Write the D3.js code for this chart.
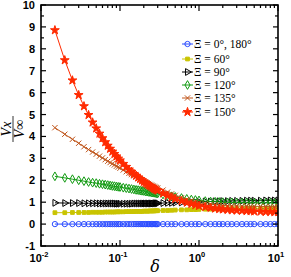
<!DOCTYPE html>
<html>
<head>
<meta charset="utf-8">
<script src="https://cdn.jsdelivr.net/npm/d3@7"></script>
<style>
  html, body { margin: 0; padding: 0; background: #fff; }
  svg { display: block; }
</style>
</head>
<body>
<div id="chart"></div>
<script>
(function() {
  'use strict';

  // x values (delta)
  const deltas = [
    0.015, 0.02, 0.025, 0.03, 0.035, 0.04, 0.045, 0.05, 0.055, 0.06, 0.065, 0.07, 0.075, 0.08, 0.085, 0.09, 0.095, 0.1,
    0.11, 0.12, 0.13, 0.14, 0.15, 0.16, 0.17, 0.18, 0.19, 0.2, 0.21, 0.22, 0.23, 0.24, 0.25, 0.26, 0.27, 0.28, 0.29, 0.3,
    0.35, 0.4, 0.45, 0.5, 0.6, 0.7, 0.8, 0.9, 1, 1.2, 1.4, 1.6, 1.8, 2, 2.3, 2.6, 3, 3.5, 4, 4.5, 5, 6, 7, 8, 9, 10
  ];

  // Vx / Vinf per series
  const xi0 = [
    0, 0, 0, 0, 0, 0, 0, 0, 0, 0, 0, 0, 0, 0, 0, 0, 0, 0,
    0, 0, 0, 0, 0, 0, 0, 0, 0, 0, 0, 0, 0, 0, 0, 0, 0, 0, 0, 0,
    0, 0, 0, 0, 0, 0, 0, 0, 0, 0, 0, 0, 0, 0, 0, 0, 0, 0, 0, 0, 0, 0, 0, 0, 0, 0
  ];
  const xi60 = [
    0.52, 0.52, 0.53, 0.53, 0.53, 0.53, 0.54, 0.54, 0.54, 0.54, 0.55, 0.55, 0.55, 0.55, 0.55, 0.56, 0.56, 0.56,
    0.56, 0.57, 0.57, 0.57, 0.57, 0.58, 0.58, 0.58, 0.58, 0.59, 0.59, 0.59, 0.59, 0.6, 0.6, 0.6, 0.6, 0.61, 0.61, 0.61,
    0.62, 0.62, 0.63, 0.64, 0.65, 0.65, 0.66, 0.66, 0.67, 0.68, 0.68, 0.69, 0.69, 0.7, 0.7, 0.71, 0.71, 0.71, 0.72, 0.72, 0.72, 0.72, 0.73, 0.73, 0.73, 0.73
  ];
  const xi90 = [
    0.97, 0.96, 0.96, 0.96, 0.95, 0.95, 0.95, 0.95, 0.94, 0.94, 0.94, 0.94, 0.94, 0.94, 0.94, 0.93, 0.93, 0.93,
    0.93, 0.93, 0.93, 0.93, 0.94, 0.94, 0.94, 0.94, 0.94, 0.94, 0.94, 0.94, 0.94, 0.94, 0.94, 0.94, 0.94, 0.95, 0.95, 0.95,
    0.96, 0.97, 0.97, 0.98, 0.99, 1.0, 1.01, 1.01, 1.02, 1.03, 1.03, 1.04, 1.04, 1.05, 1.05, 1.06, 1.06, 1.06, 1.07, 1.07, 1.07, 1.07, 1.08, 1.08, 1.08, 1.08
  ];
  const xi120 = [
    2.18, 2.11, 2.05, 2.0, 1.96, 1.92, 1.89, 1.87, 1.84, 1.82, 1.8, 1.78, 1.76, 1.74, 1.73, 1.71, 1.7, 1.69,
    1.66, 1.64, 1.62, 1.6, 1.58, 1.56, 1.55, 1.53, 1.52, 1.51, 1.49, 1.48, 1.47, 1.46, 1.45, 1.44, 1.43, 1.42, 1.41, 1.4,
    1.35, 1.31, 1.27, 1.24, 1.19, 1.15, 1.12, 1.1, 1.08, 1.05, 1.03, 1.02, 1.01, 1.0, 0.99, 0.99, 0.98, 0.98, 0.98, 0.97, 0.97, 0.97, 0.97, 0.97, 0.96, 0.96
  ];
  const xi135 = [
    4.4, 4.1, 3.87, 3.69, 3.53, 3.4, 3.29, 3.19, 3.1, 3.02, 2.94, 2.87, 2.81, 2.75, 2.7, 2.64, 2.6, 2.55,
    2.47, 2.39, 2.32, 2.26, 2.2, 2.15, 2.09, 2.05, 2.0, 1.96, 1.92, 1.88, 1.85, 1.81, 1.78, 1.75, 1.72, 1.69, 1.66, 1.64,
    1.55, 1.46, 1.38, 1.31, 1.2, 1.12, 1.06, 1.01, 0.97, 0.93, 0.9, 0.88, 0.86, 0.85, 0.84, 0.83, 0.83, 0.82, 0.82, 0.81, 0.81, 0.81, 0.8, 0.8, 0.8, 0.8
  ];
  const xi150 = [
    8.85, 7.48, 6.56, 5.89, 5.38, 4.98, 4.64, 4.37, 4.13, 3.92, 3.74, 3.58, 3.44, 3.31, 3.2, 3.09, 2.99, 2.91,
    2.75, 2.61, 2.49, 2.39, 2.29, 2.21, 2.13, 2.06, 1.99, 1.93, 1.88, 1.83, 1.78, 1.74, 1.7, 1.66, 1.62, 1.59, 1.56, 1.53,
    1.4, 1.3, 1.22, 1.15, 1.05, 0.98, 0.92, 0.87, 0.83, 0.78, 0.74, 0.71, 0.69, 0.67, 0.65, 0.63, 0.62, 0.61, 0.6, 0.59, 0.58, 0.57, 0.56, 0.56, 0.55, 0.55
  ];

  const seriesNames = ['Ξ = 0°, 180°', 'Ξ = 60°', 'Ξ = 90°', 'Ξ = 120°', 'Ξ = 135°', 'Ξ = 150°'];
  const seriesValues = [xi0, xi60, xi90, xi120, xi135, xi150];

  const yTicks = [-1, 0, 1, 2, 3, 4, 5, 6, 7, 8, 9, 10];
  const xTicks = [0.01, 0.1, 1, 10];
  const xTickExps = ['-2', '-1', '0', '1'];

  // 스타일 (series order)
  const styles = [
    { color: '#2a4bff', symbol: d3.symbolCircle, size: 22, fill: 'none', rotate: 0 },
    { color: '#c9c400', symbol: d3.symbolSquare, size: 14, fill: '#c9c400', rotate: 0 },
    { color: '#000000', symbol: d3.symbolTriangle, size: 20, fill: 'none', rotate: 90 },
    { color: '#109a10', symbol: d3.symbolDiamond, size: 22, fill: 'none', rotate: 0 },
    { color: '#c0561c', symbol: d3.symbolTimes, size: 20, fill: 'none', rotate: 0 },
    { color: '#ff2a00', symbol: d3.symbolStar, size: 24, fill: '#ff2a00', rotate: 0 }
  ];

  const W = 291, H = 277;
  const margin = { top: 5, right: 13, bottom: 31, left: 41 };
  const width = W - margin.left - margin.right;
  const height = H - margin.top - margin.bottom;

  const svg = d3.select('#chart')
    .append('svg')
    .attr('width', W)
    .attr('height', H);

  const g = svg.append('g')
    .attr('transform', `translate(${margin.left},${margin.top})`);

  const x = d3.scaleLog().domain([0.01, 10]).range([0, width]);
  const y = d3.scaleLinear().domain([-1, 10]).range([height, 0]);

  const clipId = 'plotClip';
  g.append('clipPath').attr('id', clipId)
    .append('rect').attr('width', width).attr('height', height);

  const plot = g.append('g').attr('clip-path', `url(#${clipId})`);

  const line = d3.line()
    .x((d, i) => x(deltas[i]))
    .y(d => y(d));

  seriesValues.forEach((vals, si) => {
    const st = styles[si];
    const sg = plot.append('g');
    sg.append('path')
      .datum(vals)
      .attr('fill', 'none')
      .attr('stroke', st.color)
      .attr('stroke-width', 1)
      .attr('d', line);

    const sym = d3.symbol().type(st.symbol).size(st.size);
    sg.selectAll('path.mk')
      .data(vals)
      .enter()
      .append('path')
      .attr('class', 'mk')
      .attr('transform', (d, i) => `translate(${x(deltas[i])},${y(d)}) rotate(${st.rotate})`)
      .attr('d', sym)
      .attr('fill', st.fill)
      .attr('stroke', st.color)
      .attr('stroke-width', 1);
  });

  // 축 (ticks inward on all four sides)
  const minorX = [];
  [0.01, 0.1, 1].forEach(dec => {
    for (let k = 2; k <= 9; k++) minorX.push(dec * k);
  });
  const minorY = d3.range(-0.5, 10, 1);

  const axisColor = '#000';
  const ticksG = g.append('g');

  function tick(x1, y1, x2, y2) {
    ticksG.append('line')
      .attr('x1', x1).attr('y1', y1).attr('x2', x2).attr('y2', y2)
      .attr('stroke', axisColor).attr('stroke-width', 1.2);
  }

  yTicks.forEach(v => {
    tick(0, y(v), 5, y(v));
    tick(width, y(v), width - 5, y(v));
  });
  minorY.forEach(v => {
    tick(0, y(v), 3, y(v));
    tick(width, y(v), width - 3, y(v));
  });
  xTicks.forEach(v => {
    tick(x(v), height, x(v), height - 6);
    tick(x(v), 0, x(v), 6);
  });
  minorX.forEach(v => {
    tick(x(v), height, x(v), height - 3);
    tick(x(v), 0, x(v), 3);
  });

  g.append('rect')
    .attr('width', width)
    .attr('height', height)
    .attr('fill', 'none')
    .attr('stroke', axisColor)
    .attr('stroke-width', 1.6);

  // 눈금 라벨
  g.selectAll('.ylab')
    .data(yTicks)
    .enter()
    .append('text')
    .attr('x', -6)
    .attr('y', d => y(d))
    .attr('dy', '0.36em')
    .attr('text-anchor', 'end')
    .attr('font-family', 'Liberation Sans, Arial, sans-serif')
    .attr('font-weight', 'bold')
    .attr('font-size', 11)
    .text(d => d);

  xTicks.forEach((v, i) => {
    const t = g.append('text')
      .attr('x', x(v) - 2)
      .attr('y', height + 16)
      .attr('text-anchor', 'middle')
      .attr('font-family', 'Liberation Sans, Arial, sans-serif')
      .attr('font-weight', 'bold')
      .attr('font-size', 11);
    t.append('tspan').text('10');
    t.append('tspan')
      .attr('dy', -5)
      .attr('font-size', 7.5)
      .text(xTickExps[i]);
  });

  // 축 제목
  svg.append('text')
    .attr('x', 155)
    .attr('y', 272)
    .attr('text-anchor', 'middle')
    .attr('font-family', 'DejaVu Serif, Liberation Serif, serif')
    .attr('font-style', 'italic')
    .attr('font-size', 16)
    .text('δ');

  const yl = svg.append('g')
    .attr('transform', 'translate(13,129) rotate(-90)');
  yl.append('text')
    .attr('x', 0).attr('y', -2)
    .attr('text-anchor', 'middle')
    .attr('font-family', 'Liberation Serif, serif')
    .attr('font-style', 'italic')
    .attr('font-size', 14)
    .text('Vx');
  yl.append('line')
    .attr('x1', -13).attr('x2', 13)
    .attr('y1', 0).attr('y2', 0)
    .attr('stroke', '#000').attr('stroke-width', 0.8);
  yl.append('text')
    .attr('x', 0).attr('y', 11)
    .attr('text-anchor', 'middle')
    .attr('font-family', 'Liberation Serif, serif')
    .attr('font-style', 'italic')
    .attr('font-size', 14)
    .text('V∞');

  // 범례
  const legendY = [44, 59, 72, 85, 98, 112];
  const legend = svg.append('g');
  seriesNames.forEach((name, si) => {
    const st = styles[si];
    const ly = legendY[si];
    legend.append('line')
      .attr('x1', 182).attr('x2', 193)
      .attr('y1', ly).attr('y2', ly)
      .attr('stroke', st.color).attr('stroke-width', 1);
    legend.append('path')
      .attr('transform', `translate(187.5,${ly}) rotate(${st.rotate})`)
      .attr('d', d3.symbol().type(st.symbol).size(st.size)())
      .attr('fill', st.fill)
      .attr('stroke', st.color)
      .attr('stroke-width', 1);
    legend.append('text')
      .attr('x', 194)
      .attr('y', ly)
      .attr('dy', '0.35em')
      .attr('font-family', 'Liberation Serif, serif')
      .attr('font-size', 11.5)
      .text(name);
  });
})();
</script>
</body>
</html>
